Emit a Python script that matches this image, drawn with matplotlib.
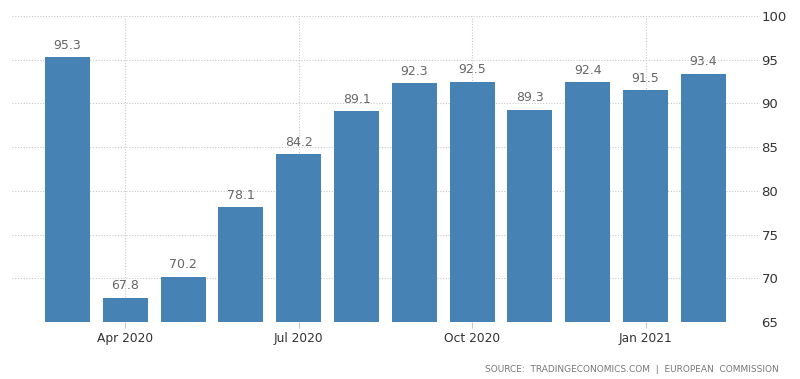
import numpy as np
import matplotlib.pyplot as plt

# Monthly values, Mar 2020 .. Feb 2021
months = ['Mar 2020', 'Apr 2020', 'May 2020', 'Jun 2020', 'Jul 2020', 'Aug 2020',
          'Sep 2020', 'Oct 2020', 'Nov 2020', 'Dec 2020', 'Jan 2021', 'Feb 2021']
values = [95.3, 67.8, 70.2, 78.1, 84.2, 89.1, 92.3, 92.5, 89.3, 92.4, 91.5, 93.4]
tick_months = ['Apr 2020', 'Jul 2020', 'Oct 2020', 'Jan 2021']
y_ticks = [65, 70, 75, 80, 85, 90, 95, 100]

bar_color = '#4682b4'
grid_color = '#c8c8c8'

fig = plt.figure(figsize=(8, 3.79), dpi=100)
ax = fig.add_axes([0.015, 0.1504, 0.935, 0.8074])

x = np.arange(len(months))
bars = ax.bar(x, values, width=0.78, color=bar_color, zorder=3)

for xi, v in zip(x, values):
    ax.annotate(f'{v:.1f}', (xi, v), xytext=(0, 4), textcoords='offset points',
                ha='center', va='bottom', fontsize=9, color='#666666', zorder=4)

ax.set_ylim(65, 100)
ax.set_xlim(-0.96, 11.98)

tick_pos = [months.index(m) for m in tick_months]
ax.set_xticks(tick_pos)
ax.set_xticklabels(tick_months, fontsize=8.8, color='#333333')
ax.set_yticks(y_ticks)
ax.set_yticklabels([str(t) for t in y_ticks], fontsize=9.5, color='#333333')

ax.yaxis.tick_right()
ax.tick_params(axis='y', length=0, pad=1)
ax.tick_params(axis='x', length=4, color=grid_color, pad=3)

ax.grid(True, axis='both', linestyle=(0, (1, 1.5)), color=grid_color, linewidth=0.8, zorder=0)
for s in ax.spines.values():
    s.set_visible(False)

fig.text(0.973, 0.014, 'SOURCE:  TRADINGECONOMICS.COM  |  EUROPEAN  COMMISSION',
         ha='right', va='bottom', fontsize=6.5, color='#777777')

fig.savefig('out.png', dpi=100)
